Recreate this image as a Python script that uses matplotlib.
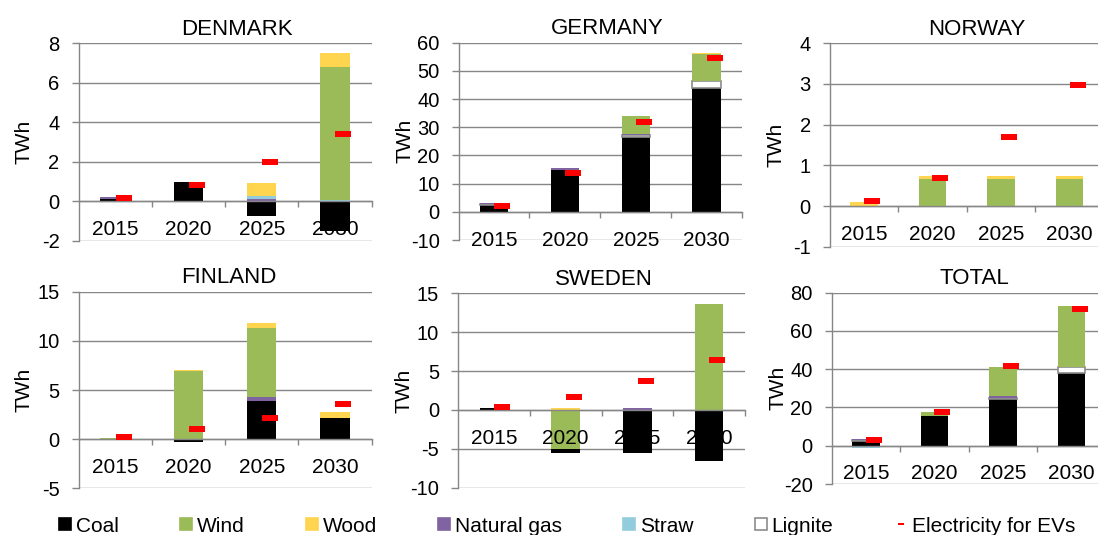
import matplotlib.pyplot as plt
import numpy as np
from matplotlib.lines import Line2D

plt.rcParams['font.family'] = ['Liberation Sans', 'DejaVu Sans']

years = ["2015", "2020", "2025", "2030"]
countries = ["DENMARK", "GERMANY", "NORWAY", "FINLAND", "SWEDEN", "TOTAL"]

# TWh per year
coal = {
    "DENMARK": [0.1, 0.95, -0.75, -1.5],
    "GERMANY": [2.5, 15.0, 26.5, 43.9],
    "NORWAY": [0, 0, 0, 0],
    "FINLAND": [0, -0.25, 3.9, 2.2],
    "SWEDEN": [0.25, -0.45, -5.5, -6.6],
    "TOTAL": [2.6, 15.4, 24.5, 38.1],
}
lignite = {
    "DENMARK": [0, 0, 0, 0],
    "GERMANY": [0.3, 0, 0.8, 2.5],
    "NORWAY": [0, 0, 0, 0],
    "FINLAND": [0, 0, 0, 0],
    "SWEDEN": [0, 0, 0, 0],
    "TOTAL": [0.3, 0, 0.6, 2.8],
}
natural_gas = {
    "DENMARK": [0.1, -0.05, 0.12, 0],
    "GERMANY": [0.5, 0.7, 0.3, 0],
    "NORWAY": [0, 0, 0, 0],
    "FINLAND": [0, 0, 0.4, 0],
    "SWEDEN": [0, 0, 0.2, 0],
    "TOTAL": [0.55, 0, 0.9, 0],
}
straw = {
    "DENMARK": [0, 0, 0.12, 0.07],
    "GERMANY": [0, 0, 0, 0],
    "NORWAY": [0, 0, 0, 0],
    "FINLAND": [-0.1, 0, 0, 0],
    "SWEDEN": [0, 0, 0, 0],
    "TOTAL": [-0.5, 0, 0, 0],
}
wind = {
    "DENMARK": [0, 0, 0, 6.75],
    "GERMANY": [0, 0, 6.5, 9.5],
    "NORWAY": [0, 0.66, 0.66, 0.66],
    "FINLAND": [0.15, 6.9, 7.0, 0],
    "SWEDEN": [0, -5.05, 0, 13.6],
    "TOTAL": [0, 2.2, 15.0, 31.9],
}
wood = {
    "DENMARK": [-0.05, 0.04, 0.66, 0.68],
    "GERMANY": [0, 0, -0.3, 0.3],
    "NORWAY": [0.1, 0.09, 0.07, 0.07],
    "FINLAND": [0, 0.15, 0.55, 0.57],
    "SWEDEN": [-0.15, 0.2, 0, 0],
    "TOTAL": [-0.6, 0, 0, 0],
}
ev = {
    "DENMARK": [0.17, 0.8, 1.98, 3.43],
    "GERMANY": [2.2, 13.9, 32.0, 54.4],
    "NORWAY": [0.12, 0.7, 1.7, 2.98],
    "FINLAND": [0.2, 1.0, 2.2, 3.6],
    "SWEDEN": [0.34, 1.62, 3.67, 6.37],
    "TOTAL": [3.1, 17.8, 41.9, 71.3],
}

# y axis (min, max, step) per panel
y_ranges = [(-2, 8, 2), (-10, 60, 10), (-1, 4, 1), (-5, 15, 5), (-10, 15, 5), (-20, 80, 20)]

# fuel name, data, fill, edge ; positives stack in this order, negatives reversed
fuels = [
    ("Coal", coal, "#000000", "none"),
    ("Lignite", lignite, "#FFFFFF", "#8C8C8C"),
    ("Natural gas", natural_gas, "#8064A2", "none"),
    ("Straw", straw, "#93CDDD", "none"),
    ("Wind", wind, "#9BBB59", "none"),
    ("Wood", wood, "#FFD44F", "none"),
]
legend_order = ["Coal", "Wind", "Wood", "Natural gas", "Straw", "Lignite"]

W, H = 1098, 535
# panel boxes in pixels: left, top, right, bottom
boxes = [(78.5, 43.3, 371.7, 240.7), (458.6, 42.7, 742, 240), (829.7, 43.3, 1104, 246.7),
         (78.5, 291.7, 371.7, 488.3), (458, 293.3, 745, 487.7), (831.5, 292.7, 1106, 484)]
title_x = [0.541, 0.526, 0.537, 0.513, 0.510, 0.521]

GREY = "#868686"
dash = [(-1, -0.42), (1, -0.42), (1, 0.42), (-1, 0.42)]

fig = plt.figure(figsize=(W / 100, H / 100), dpi=100)

for k, country in enumerate(countries):
    l, t, r, b = boxes[k]
    ax = fig.add_axes([l / W, 1 - b / H, (r - l) / W, (b - t) / H])
    x = np.arange(len(years))

    pos = np.zeros(len(years))
    for name, data, fc, ec in fuels:
        v = np.array(data[country], dtype=float)
        m = v > 0
        if m.any():
            ax.bar(x[m], v[m], 0.4, bottom=pos[m], color=fc, edgecolor=ec,
                   linewidth=1.2 if ec != "none" else 0, zorder=1)
            pos[m] += v[m]
    neg = np.zeros(len(years))
    for name, data, fc, ec in reversed(fuels):
        v = np.array(data[country], dtype=float)
        m = v < 0
        if m.any():
            ax.bar(x[m], v[m], 0.4, bottom=neg[m], color=fc, edgecolor=ec,
                   linewidth=1.2 if ec != "none" else 0, zorder=1)
            neg[m] += v[m]

    ax.plot(x + 0.115, ev[country], ls="none", marker=dash, ms=11.2,
            color="#FF0000", mew=0, zorder=4)

    lo, hi, step = y_ranges[k]
    ticks = np.arange(lo, hi + step / 2, step)
    ax.set_xlim(-0.5, 3.5)
    ax.set_ylim(lo, hi)
    ax.set_yticks(ticks)
    ax.set_yticklabels([str(int(v)) for v in ticks])
    ax.hlines(ticks, -0.5, 3.5, colors=GREY, lw=1, zorder=0.5)

    for s in ["top", "right"]:
        ax.spines[s].set_visible(False)
    ax.spines["bottom"].set_position(("data", 0))
    for s in ["bottom", "left"]:
        ax.spines[s].set_color(GREY)
        ax.spines[s].set_linewidth(1)

    ax.set_xticks(x)
    ax.set_xticklabels(years)
    ax.set_xticks([0.5, 1.5, 2.5, 3.5], minor=True)
    ax.tick_params(axis="x", which="major", length=0, pad=13.5, labelsize=15)
    ax.tick_params(axis="x", which="minor", length=4.5, color=GREY, width=1)
    ax.tick_params(axis="y", length=5, color=GREY, width=1, pad=8.6, labelsize=14.5)

    ax.set_ylabel("TWh", fontsize=15, va="center")
    ax.yaxis.set_label_coords(-54 / (r - l), 0.5)
    ax.set_title(country, fontsize=16, x=title_x[k], pad=6)

colors = {name: (fc, ec) for name, data, fc, ec in fuels}
handles = []
for name in legend_order:
    fc, ec = colors[name]
    handles.append(Line2D([], [], ls="none", marker="s", ms=8, markerfacecolor=fc,
                          markeredgecolor=ec if ec != "none" else fc, mew=1.2, label=name))
handles.append(Line2D([], [], ls="none", marker=dash, ms=5, color="#FF0000", mew=0,
                      label="Electricity for EVs"))

fig.legend(handles=handles, loc="center left", bbox_to_anchor=(59 / W, 9 / H), ncol=7,
           frameon=False, fontsize=15, handlelength=0.55, handletextpad=0.25,
           columnspacing=2.95, borderpad=0, borderaxespad=0)

fig.savefig("out.png", dpi=100)
